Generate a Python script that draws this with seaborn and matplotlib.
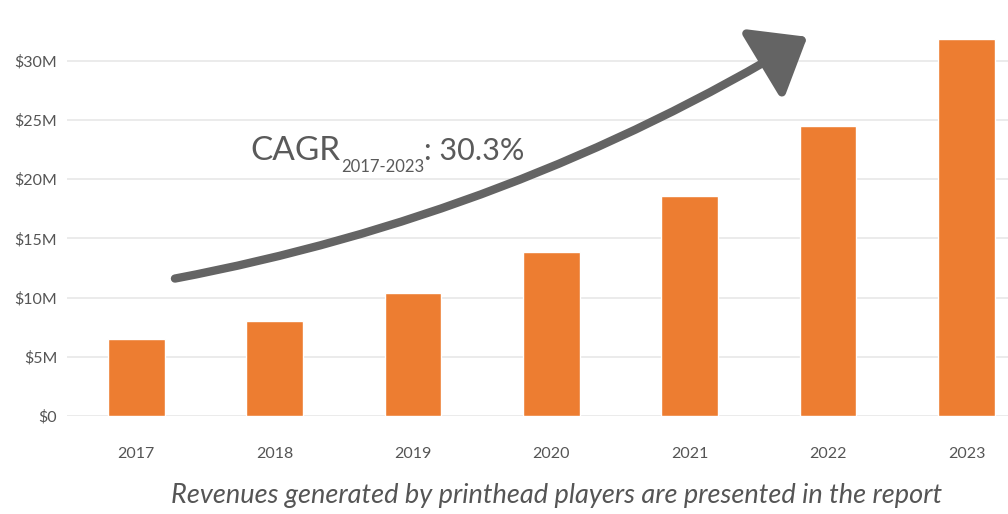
import matplotlib
matplotlib.use("Agg")
import matplotlib.pyplot as plt
import seaborn as sns
import pandas as pd
from matplotlib.patches import FancyArrowPatch

years = ["2017", "2018", "2019", "2020", "2021", "2022", "2023"]
revenue_musd = [6.5, 8.0, 10.4, 13.8, 18.6, 24.5, 31.8]
ytick_values = [0, 5, 10, 15, 20, 25, 30]
ytick_labels = [r"\$0", r"\$5M", r"\$10M", r"\$15M", r"\$20M", r"\$25M", r"\$30M"]
cagr_main = "CAGR"
cagr_sub = "2017-2023"
cagr_value = ": 30.3%"
caption = "Revenues generated by printhead players are presented in the report"

sns.set_style("white")
plt.rcParams["font.family"] = ["Lato", "DejaVu Sans"]

df = pd.DataFrame({"year": years, "revenue": revenue_musd})

fig = plt.figure(figsize=(10.08, 5.14), dpi=100)
ax = fig.add_axes([67 / 1008, 98 / 514, 1 - 67 / 1008, (416 - 25) / 514])

sns.barplot(data=df, x="year", y="revenue", color="#ED7D31", width=0.41,
            saturation=1, ax=ax, zorder=3)

ax.set_xlim(-0.5, 6.3)
ax.set_ylim(0, 33)
ax.set_yticks(ytick_values)
ax.set_yticklabels(ytick_labels)
ax.yaxis.grid(True, color="#e8e8e8", linewidth=1.2, zorder=0)
ax.set_axisbelow(True)
for s in ax.spines.values():
    s.set_visible(False)
ax.tick_params(axis="both", length=0, labelsize=11.5, colors="#555555")
ax.tick_params(axis="y", pad=7)
ax.tick_params(axis="x", pad=22)
ax.set_xlabel("")
ax.set_ylabel("")

# growth arrow
arrow = FancyArrowPatch((0.28, 11.6), (4.85, 32.0),
                        connectionstyle="arc3,rad=0.09",
                        arrowstyle="-|>,head_length=0.7,head_width=0.55",
                        mutation_scale=45, linewidth=6,
                        color="#646464", zorder=5, shrinkA=0, shrinkB=0)
ax.add_patch(arrow)

# CAGR label with subscript
fig.canvas.draw()
renderer = fig.canvas.get_renderer()
x0 = 250 / 1008
yb = 1 - 160 / 514
t1 = fig.text(x0, yb, cagr_main, fontsize=24, color="#5a5a5a", va="baseline")
fig.canvas.draw()
bb = t1.get_window_extent(renderer)
t2 = fig.text(bb.x1 / 1008 + 0.001, yb - 12 / 514, cagr_sub, fontsize=12,
              color="#5a5a5a", va="baseline")
fig.canvas.draw()
bb2 = t2.get_window_extent(renderer)
fig.text(bb2.x1 / 1008, yb, cagr_value, fontsize=22, color="#5a5a5a", va="baseline")

fig.text(557 / 1008, 1 - 495 / 514, caption, fontsize=19.5, style="italic",
         color="#555555", ha="center", va="center")

fig.savefig("out.png", dpi=100)
